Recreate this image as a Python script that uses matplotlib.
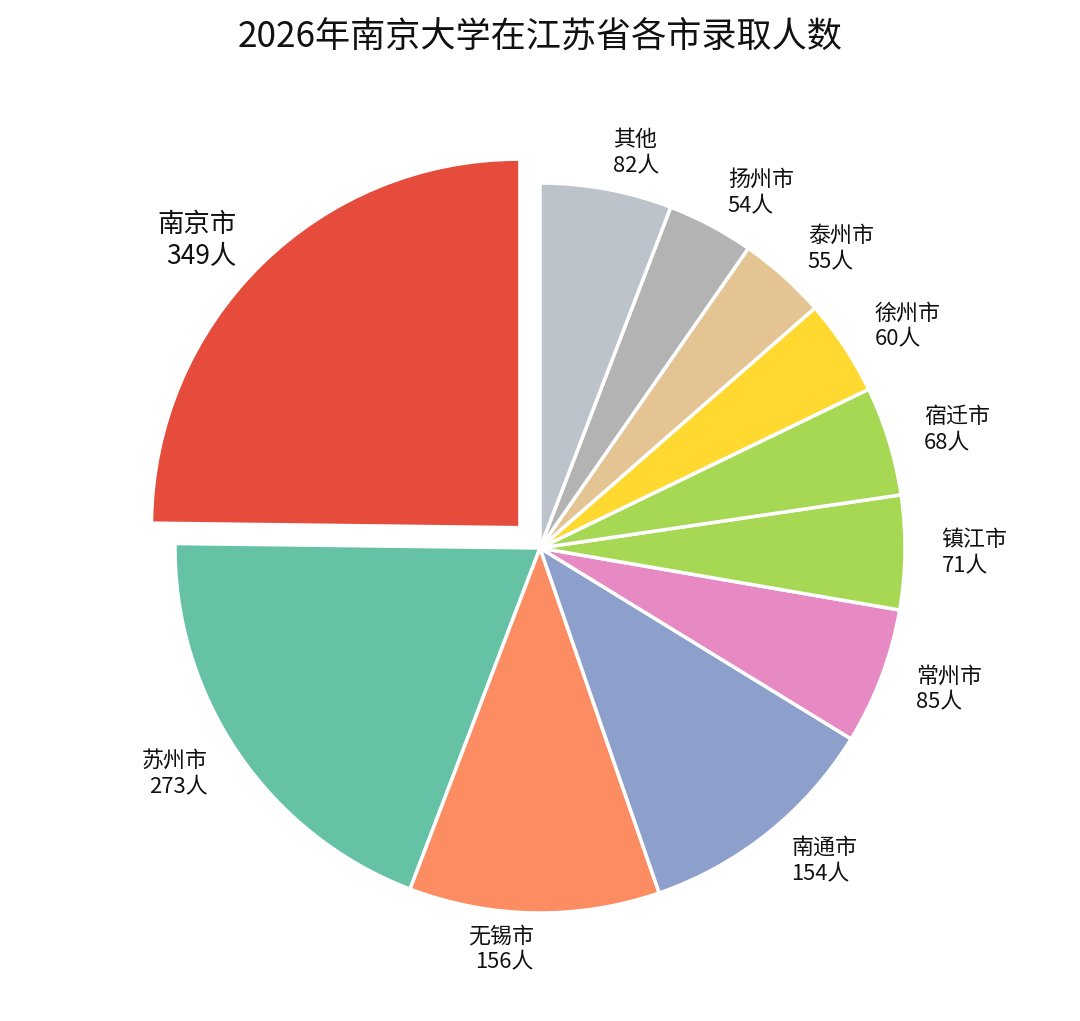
import matplotlib
matplotlib.use("Agg")
import matplotlib.pyplot as plt

plt.rcParams['font.family'] = ['Noto Sans CJK SC', 'DejaVu Sans']

cities = ["南京市", "苏州市", "无锡市", "南通市", "常州市", "镇江市",
          "宿迁市", "徐州市", "泰州市", "扬州市", "其他"]
counts = [349, 273, 156, 154, 85, 71, 68, 60, 55, 54, 82]
colors = ["#E64C3C", "#66C2A5", "#FC8D62", "#8DA0CB", "#E78AC3", "#A6D854",
          "#A6D854", "#FFD92F", "#E5C494", "#B3B3B3", "#BDC3CB"]
title = "2026年南京大学在江苏省各市录取人数"

labels = [f"{c}\n{n}人" for c, n in zip(cities, counts)]
explode = [0.085] + [0] * (len(counts) - 1)

fig = plt.figure(figsize=(10.8, 10.21), dpi=100)
ax = fig.add_axes([0, 0, 1, 1])
wedges, texts = ax.pie(counts, labels=labels, colors=colors, explode=explode,
                       startangle=90, counterclock=True, labeldistance=1.1,
                       wedgeprops=dict(edgecolor="white", linewidth=2.5),
                       textprops=dict(fontsize=15.8, color="#111111",
                                      linespacing=1.25))
texts[0].set_fontsize(19)
wedges[0].set_edgecolor("none")

r_px = 365.0
cx, cy = 540.0, 1021 - 548.0
ax.set_xlim(-cx / r_px, (1080 - cx) / r_px)
ax.set_ylim(-cy / r_px, (1021 - cy) / r_px)
ax.set_aspect('auto')
ax.axis('off')

fig.text(0.5, 1 - 37 / 1021, title, ha='center', va='center', fontsize=25.3,
         color="#111111")

fig.savefig("out.png", dpi=100, facecolor="white")
